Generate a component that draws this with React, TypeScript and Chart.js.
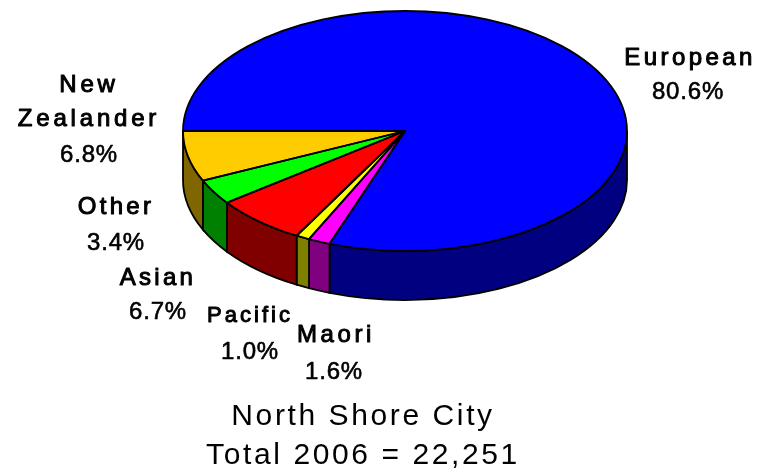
import React, { useEffect, useRef } from "react";
import { Chart, registerables } from "chart.js";

Chart.register(...registerables);

const categories = ["European", "Maori", "Pacific", "Asian", "Other", "New Zealander"];
const shares = [80.6, 1.6, 1.0, 6.7, 3.4, 6.8];
const percentLabels = ["80.6%", "1.6%", "1.0%", "6.7%", "3.4%", "6.8%"];
const topColors = ["#0000ff", "#ff00ff", "#ffff00", "#ff0000", "#00ff00", "#ffcc00"];
const sideColors = ["#000080", "#800080", "#808000", "#800000", "#008000", "#806600"];
const titleLines = ["North Shore City", "Total 2006 = 22,251"];

// Layout of the tilted pie and its hand-placed labels
const PIE = { cx: 405, cy: 131, rx: 222, ry: 120, depth: 49 };
const LINE_WIDTH = 1.8;
const labelLayout = [
  { lines: ["European"], x: 690, y: 58, size: 24, spacing: 3.4 },
  { lines: ["Maori"], x: 336, y: 335, size: 24, spacing: 3.6 },
  { lines: ["Pacific"], x: 250, y: 316, size: 22, spacing: 3 },
  { lines: ["Asian"], x: 158, y: 278, size: 24, spacing: 3.3 },
  { lines: ["Other"], x: 116, y: 207, size: 24, spacing: 3.3 },
  { lines: ["New", "Zealander"], x: 89, y: 85, size: 24, spacing: 3.8 },
];
const percentY = [92, 372, 352, 312, 243, 155];
const percentX = [688, 334, 250, 158, 116, 89];
const lineGaps: Record<number, number> = { 5: 34 };

const tiltPlugin = {
  id: "tilt",
  beforeDraw(chart: any) {
    chart.ctx.letterSpacing = "2.6px";
  },
  beforeDatasetsDraw(chart: any) {
    const { ctx } = chart;
    ctx.letterSpacing = "0px";
    const arcs = chart.getDatasetMeta(0).data;
    const { x, y, outerRadius } = arcs[0];
    const sx = PIE.rx / outerRadius;
    const sy = PIE.ry / outerRadius;
    const px = (a: number) => PIE.cx + PIE.rx * Math.cos(a);
    const py = (a: number) => PIE.cy + PIE.ry * Math.sin(a);
    // extruded side wall
    arcs.forEach((arc: any, i: number) => {
      const s = Math.max(arc.startAngle, 0);
      const e = Math.min(arc.endAngle, Math.PI);
      if (e <= s) return;
      ctx.save();
      ctx.beginPath();
      ctx.save();
      ctx.translate(PIE.cx, PIE.cy);
      ctx.scale(PIE.rx, PIE.ry);
      ctx.arc(0, 0, 1, s, e);
      ctx.restore();
      ctx.lineTo(px(e), py(e) + PIE.depth);
      ctx.save();
      ctx.translate(PIE.cx, PIE.cy + PIE.depth);
      ctx.scale(PIE.rx, PIE.ry);
      ctx.arc(0, 0, 1, e, s, true);
      ctx.restore();
      ctx.closePath();
      ctx.fillStyle = sideColors[i];
      ctx.fill();
      ctx.strokeStyle = "#000";
      ctx.lineWidth = LINE_WIDTH;
      ctx.stroke();
      ctx.restore();
    });
    // squash the library's own arcs into an ellipse
    ctx.save();
    ctx.translate(PIE.cx, PIE.cy);
    ctx.scale(sx, sy);
    ctx.translate(-x, -y);
  },
  afterDatasetsDraw(chart: any) {
    const { ctx } = chart;
    ctx.restore();
    const arcs = chart.getDatasetMeta(0).data;
    arcs.forEach((arc: any) => {
      ctx.beginPath();
      ctx.save();
      ctx.translate(PIE.cx, PIE.cy);
      ctx.scale(PIE.rx, PIE.ry);
      ctx.moveTo(0, 0);
      ctx.arc(0, 0, 1, arc.startAngle, arc.endAngle);
      ctx.closePath();
      ctx.restore();
      ctx.strokeStyle = "#000";
      ctx.lineWidth = LINE_WIDTH;
      ctx.lineJoin = "round";
      ctx.stroke();
    });
    // labels
    ctx.save();
    ctx.fillStyle = "#000";
    ctx.strokeStyle = "#000";
    ctx.textAlign = "center";
    ctx.textBaseline = "middle";
    labelLayout.forEach((l, i) => {
      ctx.font = `normal ${l.size}px "Liberation Sans"`;
      ctx.letterSpacing = `${l.spacing}px`;
      ctx.lineWidth = 1;
      l.lines.forEach((t, k) => {
        const ty = l.y + k * (lineGaps[i] ?? 0);
        ctx.fillText(t, l.x, ty);
        ctx.strokeText(t, l.x, ty);
      });
      ctx.font = 'normal 24px "Liberation Sans"';
      ctx.letterSpacing = "0.8px";
      ctx.lineWidth = 0.6;
      ctx.fillText(percentLabels[i], percentX[i], percentY[i]);
      ctx.strokeText(percentLabels[i], percentX[i], percentY[i]);
    });
    ctx.restore();
  },
};

export default function App() {
  const ref = useRef<HTMLCanvasElement>(null);
  useEffect(() => {
    const chart = new Chart(ref.current!, {
      type: "pie",
      data: {
        labels: categories,
        datasets: [{ data: shares, backgroundColor: topColors, borderWidth: 0 }],
      },
      options: {
        responsive: false,
        animation: false,
        rotation: -90,
        layout: { padding: { right: 36, bottom: 0 } },
        plugins: {
          legend: { display: false },
          tooltip: { enabled: false },
          title: {
            display: true,
            position: "bottom",
            text: titleLines,
            color: "#000",
            font: { family: '"Liberation Sans"', size: 30, weight: "normal", lineHeight: 1.3 },
            padding: { top: 0, bottom: 0 },
          },
        },
      },
      plugins: [tiltPlugin],
    } as any);
    return () => chart.destroy();
  }, []);
  return (
    <div style={{ position: "fixed", left: 0, top: 0 }}>
      <canvas ref={ref} width={762} height={475} style={{ display: "block", filter: "blur(0.7px)" }} />
    </div>
  );
}
